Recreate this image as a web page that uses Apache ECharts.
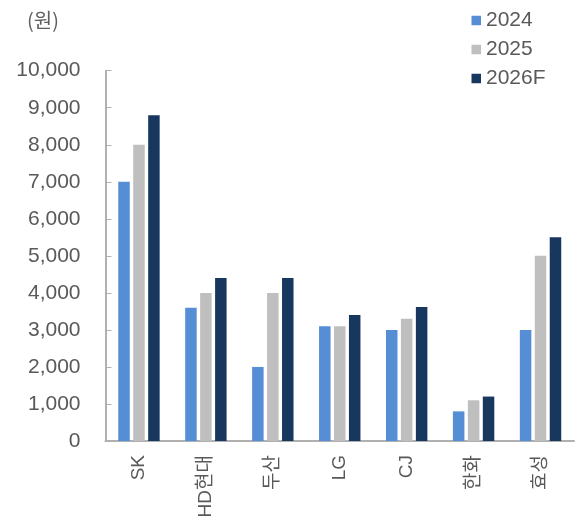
<!DOCTYPE html>
<html><head><meta charset="utf-8">
<script src="https://cdn.jsdelivr.net/npm/echarts@6/dist/echarts.min.js"></script>
<style>html,body{margin:0;padding:0;background:#fff}#c{width:583px;height:525px}</style>
</head><body><div id="c"></div>
<script>
const categories = ['SK','HD현대','두산','LG','CJ','한화','효성'];
const seriesNames = ['2024','2025','2026F'];
const v2024 = [7000,3600,2000,3100,3000,800,3000];
const v2025 = [8000,4000,4000,3100,3300,1100,5000];
const v2026F = [8800,4400,4400,3400,3620,1200,5500];
const colors = ['#558ED5','#BFBFBF','#17375E'];
const yTicks = [0,1000,2000,3000,4000,5000,6000,7000,8000,9000,10000];
const font = '"Liberation Sans", Arial, "Noto Sans CJK KR", sans-serif';
const chart = echarts.init(document.getElementById('c'));
const vals = [v2024, v2025, v2026F];
chart.setOption({
  animation:false,
  textStyle:{fontFamily:font},
  graphic:[{type:'text',left:27,top:10,style:{text:'(원)',font:'20px "Noto Sans CJK KR", sans-serif',fill:'#606060'}}],
  legend:{orient:'vertical',left:471.5,top:10,itemWidth:9.5,itemHeight:9.5,itemGap:8,icon:'rect',padding:0,
    textStyle:{fontSize:21,color:'#595959',fontFamily:font},data:seriesNames},
  grid:{left:105.5,right:9,top:70.7,bottom:84,containLabel:false},
  xAxis:{type:'category',data:categories,
    axisLine:{lineStyle:{color:'#B0B0B0',width:2}},
    axisTick:{inside:true,length:6,lineStyle:{color:'#B0B0B0'}},
    axisLabel:{rotate:90,fontSize:19,color:'#595959',margin:14,fontFamily:font}},
  yAxis:{type:'value',min:0,max:10000,interval:1000,
    axisLine:{show:true,lineStyle:{color:'#B0B0B0',width:2}},
    axisTick:{show:true,inside:true,length:6,lineStyle:{color:'#B0B0B0'}},
    splitLine:{show:false},
    axisLabel:{fontSize:21,color:'#595959',margin:25,fontFamily:font,
      formatter:v=>yTicks.includes(v)?v.toLocaleString('en-US'):''}},
  series: seriesNames.map((n,i)=>({name:n,type:'bar',data:vals[i],barWidth:11.5,barGap:'30%',
    itemStyle:{color:colors[i]}}))
});
</script></body></html>
